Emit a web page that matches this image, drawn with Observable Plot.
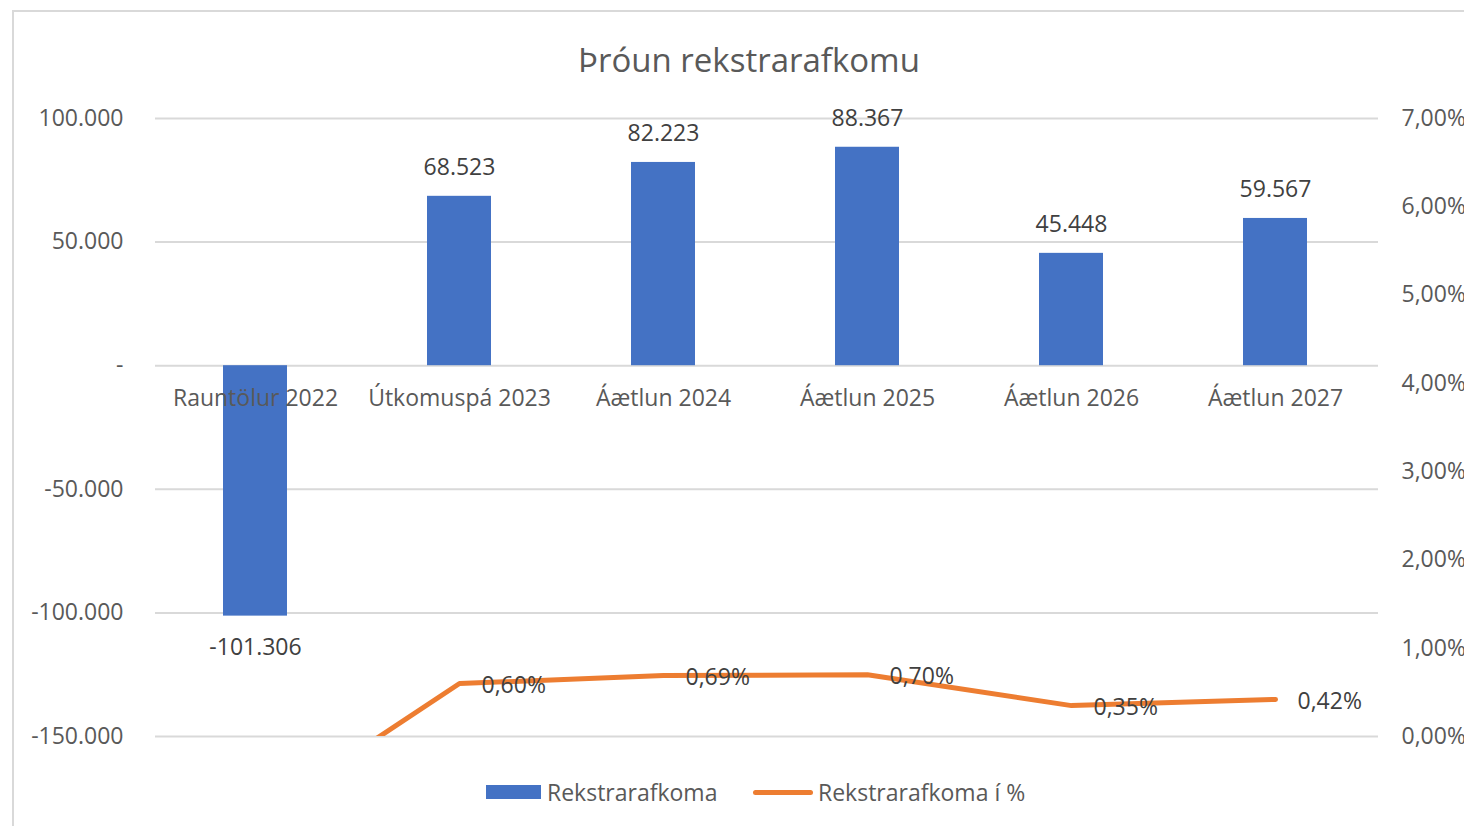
<!DOCTYPE html>
<html>
<head>
<meta charset="utf-8">
<script src="https://cdn.jsdelivr.net/npm/d3@7"></script>
<script src="https://cdn.jsdelivr.net/npm/@observablehq/plot@0.6"></script>
<style>
  html, body { margin: 0; padding: 0; background: #fff; overflow: hidden; }
  #wrap { position: relative; width: 1464px; height: 826px; font-family: 'Open Sans', sans-serif; color: #595959; }
  #border { position: absolute; left: 12px; top: 10px; width: 1500px; height: 900px; border: 2px solid #d9d9d9; box-sizing: border-box; pointer-events: none; }
  #title { position: relative; height: 90px; width: 1498px; text-align: center; font-size: 33px; line-height: 40px; padding-top: 40px; box-sizing: border-box; }
  #chart svg { display: block; overflow: visible; }
  #legend { position: relative; height: 60px; font-size: 23px; }
  .lg { position: absolute; top: 26px; transform: translateY(-50%); display: flex; align-items: center; white-space: nowrap; }
  .sw-bar { width: 55px; height: 14px; background: #4472c4; margin-right: 6px; }
  .sw-line { width: 60px; height: 5px; background: #ed7d31; border-radius: 3px; margin-right: 5px; }
</style>
</head>
<body>
<div id="wrap">
  <div id="border"></div>
  <div id="title">Þróun rekstrarafkomu</div>
  <div id="chart"></div>
  <div id="legend">
    <div class="lg" style="left:486px"><div class="sw-bar"></div><span id="lg1"></span></div>
    <div class="lg" style="left:753px"><div class="sw-line"></div><span id="lg2"></span></div>
  </div>
</div>
<script>
const categories = ["Rauntölur 2022", "Útkomuspá 2023", "Áætlun 2024", "Áætlun 2025", "Áætlun 2026", "Áætlun 2027"];
const rekstrarafkoma = [-101306, 68523, 82223, 88367, 45448, 59567];
const rekstrarafkomaPct = [-0.93, 0.60, 0.69, 0.70, 0.35, 0.42];
const leftTicks = [-150000, -100000, -50000, 0, 50000, 100000];
const rightTicks = [0, 1, 2, 3, 4, 5, 6, 7];
const seriesNames = ["Rekstrarafkoma", "Rekstrarafkoma í %"];
const chartTitle = "Þróun rekstrarafkomu";

document.getElementById("title").textContent = chartTitle;
document.getElementById("lg1").textContent = seriesNames[0];
document.getElementById("lg2").textContent = seriesNames[1];

const locale = d3.formatLocale({decimal: ",", thousands: ".", grouping: [3], currency: ["", ""], minus: "-"});
const fmtInt = locale.format(",d");
const fmtPct = locale.format(".2f");

const yMin = -150000, yMax = 100000, pMax = 7;
const toLeft = p => yMin + (p / pMax) * (yMax - yMin);

const bars = categories.map((c, i) => ({cat: c, v: rekstrarafkoma[i]}));
const pts = categories.map((c, i) => ({cat: c, p: rekstrarafkomaPct[i]}));

const FS = 23;
const plot = Plot.plot({
  width: 1464,
  height: 676,
  marginTop: 28,
  marginBottom: 30,
  marginLeft: 152,
  marginRight: 86,
  style: {fontFamily: "'Open Sans', sans-serif", fontSize: FS + "px", color: "#595959", background: "transparent"},
  x: {type: "band", domain: categories, padding: 0, axis: null},
  y: {domain: [yMin, yMax], nice: false, label: null},
  marks: [
    Plot.gridY(leftTicks, {stroke: "#d9d9d9", strokeOpacity: 1, strokeWidth: 2, insetLeft: 3}),
    Plot.axisY({anchor: "left", label: null, ticks: leftTicks, tickSize: 0, tickPadding: 29, fontSize: FS,
      tickFormat: d => d === 0 ? "-" : fmtInt(d)}),
    Plot.axisY({anchor: "right", label: null, ticks: rightTicks.map(toLeft), tickSize: 0, tickPadding: 23, fontSize: FS,
      tickFormat: d => fmtPct((d - yMin) / (yMax - yMin) * pMax) + "%"}),
    Plot.barY(bars, {x: "cat", y: "v", fill: "#4472c4", insetLeft: 70, insetRight: 70}),
    Plot.text(bars.filter(d => d.v >= 0), {x: "cat", y: "v", text: d => fmtInt(d.v), dy: -29, fontSize: FS, fill: "#404040"}),
    Plot.text(bars.filter(d => d.v < 0), {x: "cat", y: "v", text: d => fmtInt(d.v), dy: 31, fontSize: FS, fill: "#404040"}),
    Plot.text(categories, {x: d => d, y: () => 0, dy: 33, fontSize: FS, fill: "#595959"}),
    Plot.line(pts, {x: "cat", y: d => toLeft(d.p), stroke: "#ed7d31", strokeWidth: 5, strokeLinecap: "round", strokeLinejoin: "round", clip: true}),
    Plot.text(pts.filter(d => d.p >= 0 && d.p <= pMax), {x: "cat", y: d => toLeft(d.p), text: d => fmtPct(d.p) + "%", dx: 22, dy: 2, textAnchor: "start", fontSize: FS, fill: "#404040"})
  ]
});
document.getElementById("chart").appendChild(plot);
</script>
</body>
</html>
